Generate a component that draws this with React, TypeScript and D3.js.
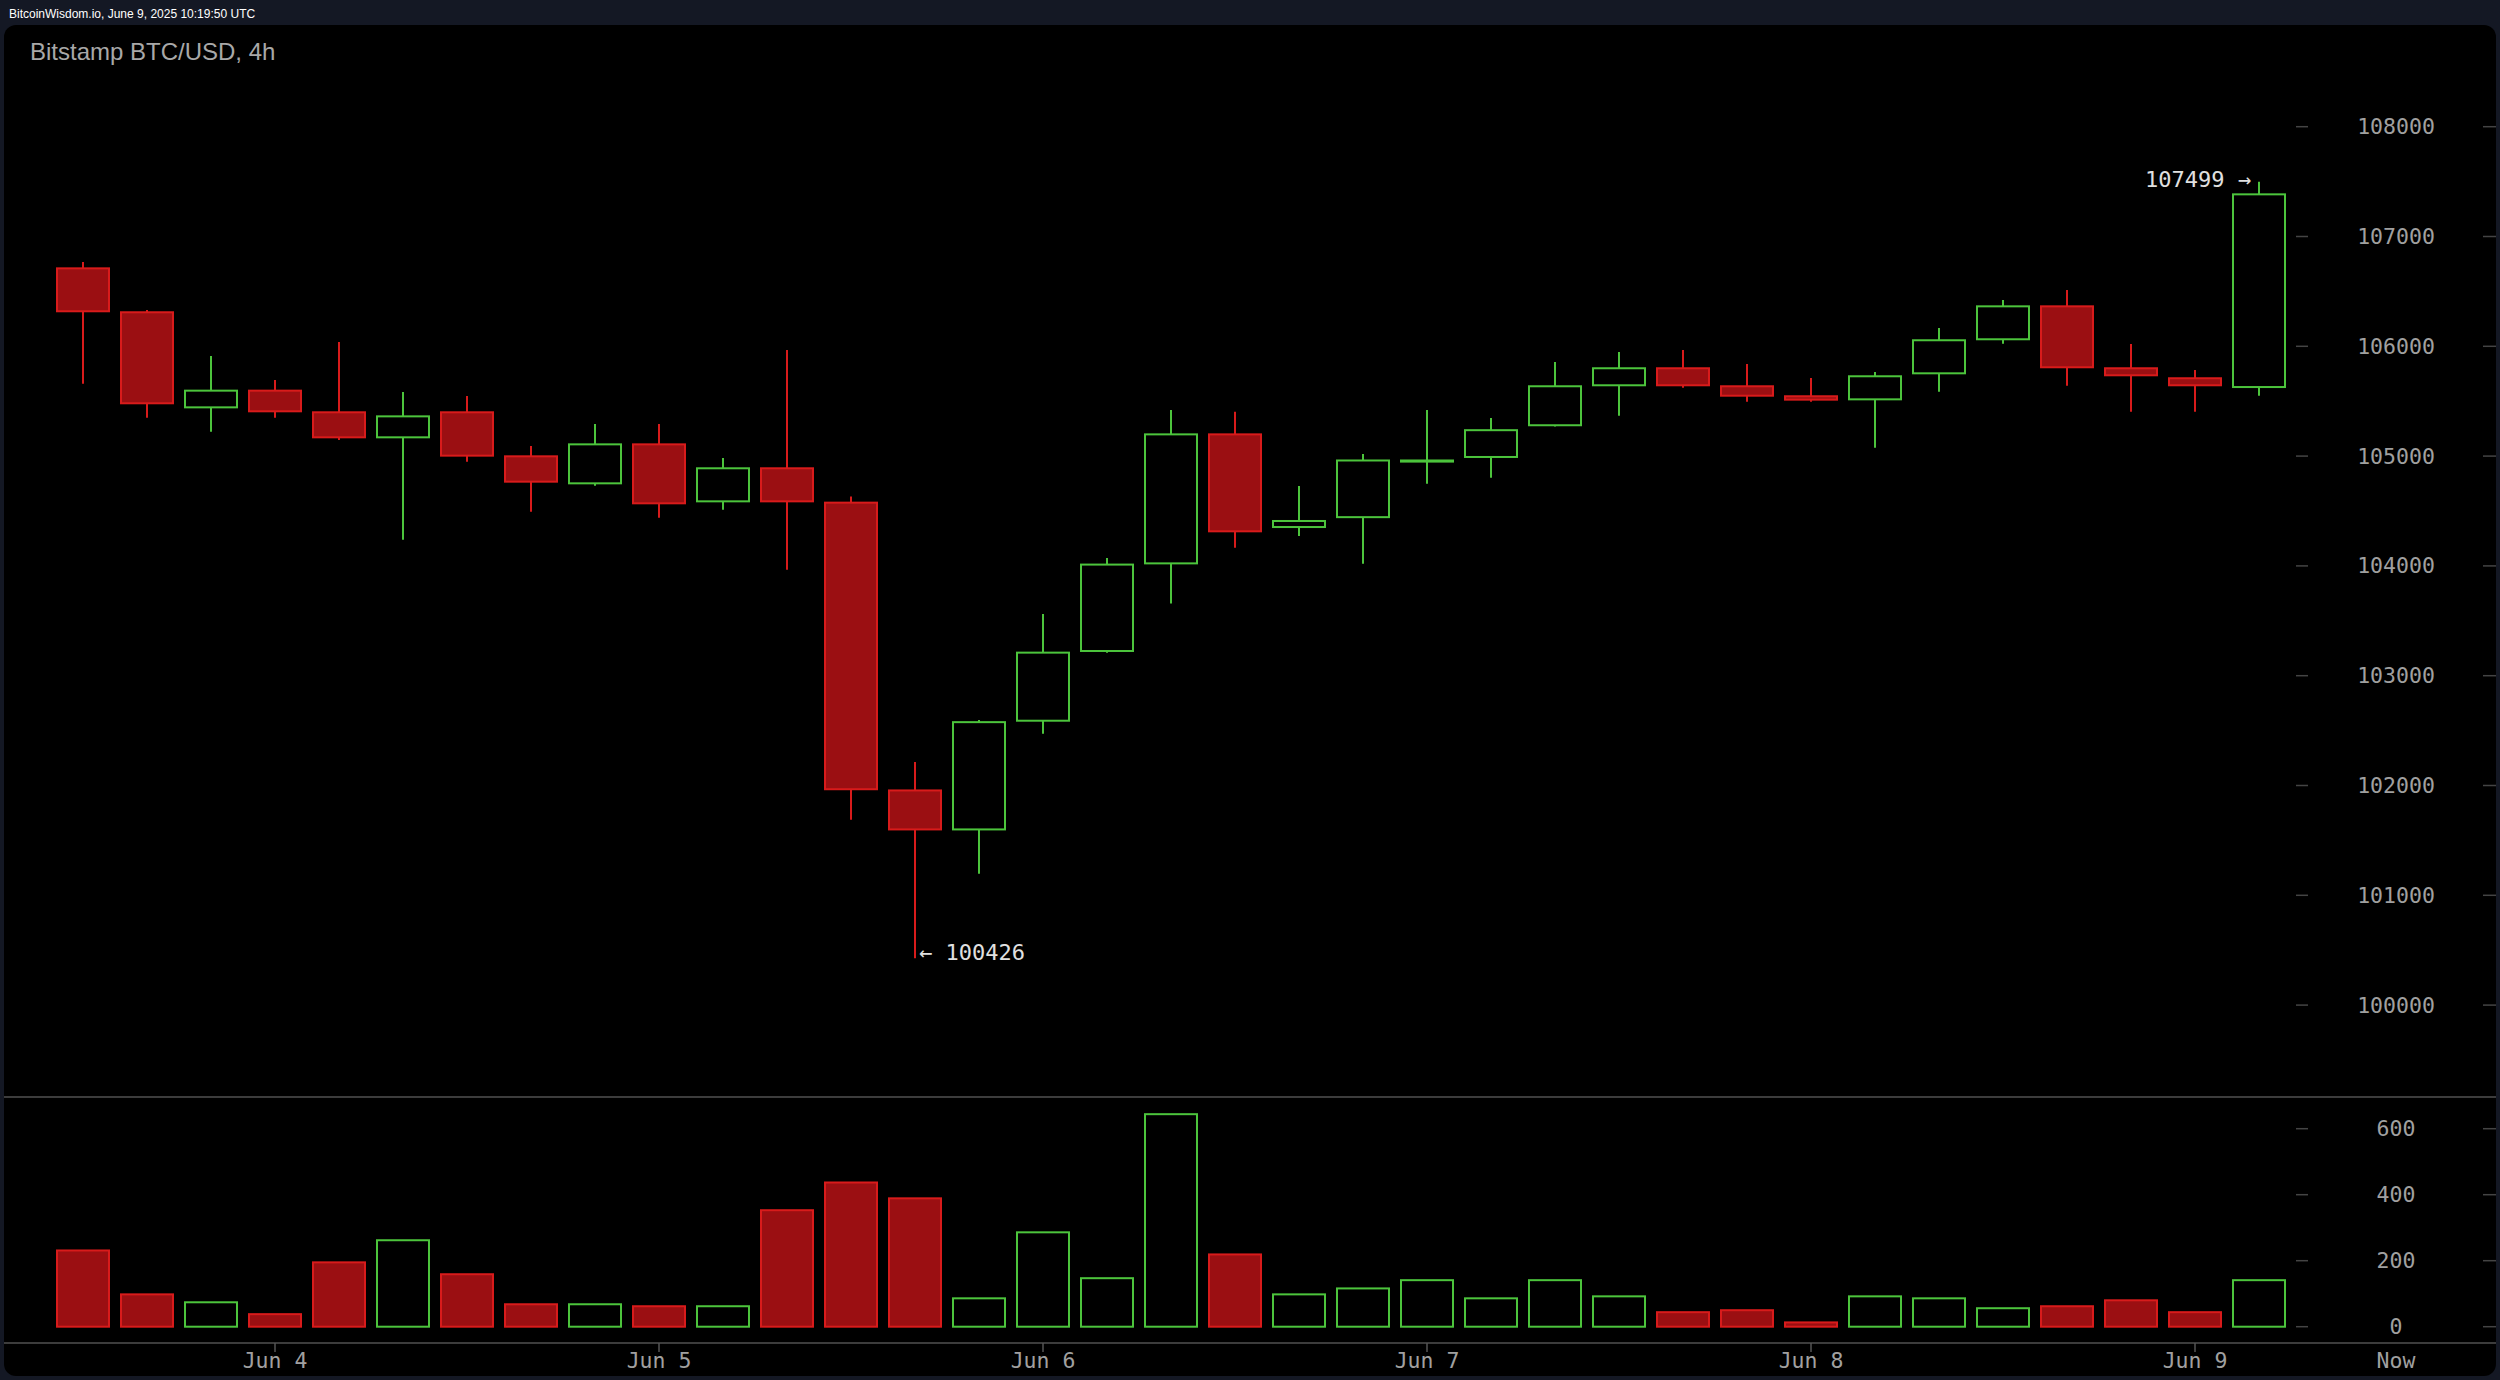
import React, { useRef, useEffect } from 'react';
import * as d3 from 'd3';

// 4h candles, Bitstamp BTC/USD, first candle Jun 3 12:00 UTC
const opens = [
  106710, 106310, 105444, 105596, 105399, 105171, 105399, 104998, 104752, 105107,
  104588, 104889, 104576, 101955, 101600, 102590, 103225, 104023, 105198, 104354,
  104444, 104950, 104992, 105281, 105645, 105800, 105636, 105545, 105517, 105754,
  106064, 106364, 105800, 105709, 105629,
];
const highs = [
  106768, 106331, 105912, 105693, 106039, 105584, 105547, 105092, 105292, 105292,
  104983, 105966, 104633, 102214, 102596, 103562, 104072, 105420, 105403, 104728,
  105019, 105420, 105347, 105857, 105948, 105966, 105839, 105711, 105766, 106167,
  106422, 106513, 106021, 105784, 107499,
];
const lows = [
  105659, 105350, 105222, 105350, 105147, 104239, 104949, 104494, 104730, 104439,
  104512, 103965, 101688, 100426, 101196, 102472, 103210, 103657, 104166, 104273,
  104019, 104748, 104803, 105270, 105368, 105623, 105495, 105495, 105077, 105587,
  106024, 105641, 105404, 105404, 105550,
];
const closes = [
  106319, 105481, 105596, 105408, 105171, 105362, 105004, 104767, 105107, 104570,
  104889, 104588, 101966, 101600, 102577, 103210, 104012, 105198, 104315, 104409,
  104960, 104960, 105236, 105636, 105800, 105645, 105550, 105514, 105727, 106055,
  106364, 105809, 105736, 105645, 107384,
];
const volumes = [
  231, 98, 74, 38, 195, 262, 159, 68, 68, 62,
  62, 353, 437, 389, 86, 286, 147, 644, 219, 98,
  116, 141, 86, 141, 92, 44, 50, 13, 92, 86,
  56, 62, 80, 44, 141,
];
const priceTicks = [100000, 101000, 102000, 103000, 104000, 105000, 106000, 107000, 108000];
const volumeTicks = [0, 200, 400, 600];

const startTime = Date.UTC(2025, 5, 3, 12);
const step = 4 * 3600 * 1000;

const RED = '#d81b1b';
const RED_FILL = '#9b0f12';
const GREEN = '#4cc43c';
const MONO = '"DejaVu Sans Mono", monospace';
const SANS = '"Liberation Sans", Arial, sans-serif';

const App: React.FC = () => {
  const svgRef = useRef<SVGSVGElement | null>(null);

  useEffect(() => {
    if (!svgRef.current) return;
    document.body.style.margin = '0';
    document.body.style.background = '#141824';

    const width = 2500;
    const height = 1380;
    const svg = d3.select(svgRef.current).attr('width', width).attr('height', height);
    svg.selectAll('*').remove();

    const data = opens.map((o, i) => ({
      t: new Date(startTime + i * step),
      o,
      h: highs[i],
      l: lows[i],
      c: closes[i],
      v: volumes[i],
      up: closes[i] >= o,
    }));

    const x = d3
      .scaleUtc()
      .domain([data[0].t, data[data.length - 1].t])
      .range([83, 2259]);
    const y = d3.scaleLinear().domain([100000, 108000]).range([1005.1, 126.7]);
    const yv = d3.scaleLinear().domain([0, 600]).range([1326.7, 1128.7]);
    const bodyW = 52;

    // background + panel
    svg.append('rect').attr('width', width).attr('height', height).attr('fill', '#141824');
    svg
      .append('rect')
      .attr('x', 4)
      .attr('y', 25)
      .attr('width', 2492)
      .attr('height', 1351)
      .attr('rx', 12)
      .attr('fill', '#000');

    svg
      .append('text')
      .attr('x', 9)
      .attr('y', 18)
      .attr('font-family', SANS)
      .attr('font-size', 12)
      .attr('fill', '#fff')
      .text('BitcoinWisdom.io, June 9, 2025 10:19:50 UTC');

    svg
      .append('text')
      .attr('x', 30)
      .attr('y', 60)
      .attr('font-family', SANS)
      .attr('font-size', 24)
      .attr('fill', '#a8a8a8')
      .text('Bitstamp BTC/USD, 4h');

    // separators
    [1097, 1343].forEach((yy) => {
      svg
        .append('line')
        .attr('x1', 4)
        .attr('x2', 2496)
        .attr('y1', yy)
        .attr('y2', yy)
        .attr('stroke', '#3c3c3c')
        .attr('stroke-width', 2);
    });

    // right axes
    const axisLabel = (yy: number, txt: string) => {
      svg
        .append('text')
        .attr('x', 2396)
        .attr('y', yy)
        .attr('text-anchor', 'middle')
        .attr('dominant-baseline', 'central')
        .attr('font-family', MONO)
        .attr('font-size', 21.5)
        .attr('fill', '#a0a0a0')
        .text(txt);
      [
        [2296, 2308],
        [2483, 2496],
      ].forEach(([a, b]) => {
        svg
          .append('line')
          .attr('x1', a)
          .attr('x2', b)
          .attr('y1', yy)
          .attr('y2', yy)
          .attr('stroke', '#444')
          .attr('stroke-width', 1.5);
      });
    };
    priceTicks.forEach((p) => axisLabel(y(p), String(p)));
    volumeTicks.forEach((v) => axisLabel(yv(v), String(v)));

    // date axis
    const days = d3.utcDay.range(data[0].t, new Date(data[data.length - 1].t.getTime() + 1));
    const fmt = d3.utcFormat('%b %-d');
    days.forEach((d) => {
      svg
        .append('line')
        .attr('x1', x(d))
        .attr('x2', x(d))
        .attr('y1', 1343)
        .attr('y2', 1352)
        .attr('stroke', '#555')
        .attr('stroke-width', 1.5);
      svg
        .append('text')
        .attr('x', x(d))
        .attr('y', 1360)
        .attr('text-anchor', 'middle')
        .attr('dominant-baseline', 'central')
        .attr('font-family', MONO)
        .attr('font-size', 21.5)
        .attr('fill', '#a0a0a0')
        .text(fmt(d));
    });
    svg
      .append('text')
      .attr('x', 2396)
      .attr('y', 1360)
      .attr('text-anchor', 'middle')
      .attr('dominant-baseline', 'central')
      .attr('font-family', MONO)
      .attr('font-size', 21.5)
      .attr('fill', '#a0a0a0')
      .text('Now');

    // wicks
    svg
      .append('g')
      .selectAll('line')
      .data(data)
      .join('line')
      .attr('x1', (d) => x(d.t))
      .attr('x2', (d) => x(d.t))
      .attr('y1', (d) => y(d.h))
      .attr('y2', (d) => y(d.l))
      .attr('stroke', (d) => (d.up ? GREEN : RED))
      .attr('stroke-width', 2);

    // bodies
    svg
      .append('g')
      .selectAll('rect')
      .data(data)
      .join('rect')
      .attr('x', (d) => x(d.t) - bodyW / 2)
      .attr('y', (d) => y(Math.max(d.o, d.c)))
      .attr('width', bodyW)
      .attr('height', (d) => Math.abs(y(d.o) - y(d.c)))
      .attr('fill', (d) => (d.up ? '#000' : RED_FILL))
      .attr('stroke', (d) => (d.up ? GREEN : RED))
      .attr('stroke-width', 2);

    // volume
    svg
      .append('g')
      .selectAll('rect')
      .data(data)
      .join('rect')
      .attr('x', (d) => x(d.t) - bodyW / 2)
      .attr('y', (d) => yv(d.v))
      .attr('width', bodyW)
      .attr('height', (d) => yv(0) - yv(d.v))
      .attr('fill', (d) => (d.up ? '#000' : RED_FILL))
      .attr('stroke', (d) => (d.up ? GREEN : RED))
      .attr('stroke-width', 2);

    // high / low markers
    const hi = data.reduce((a, b) => (b.h > a.h ? b : a));
    const lo = data.reduce((a, b) => (b.l < a.l ? b : a));
    svg
      .append('text')
      .attr('x', x(hi.t) - 8)
      .attr('y', y(hi.h) - 2)
      .attr('text-anchor', 'end')
      .attr('dominant-baseline', 'central')
      .attr('font-family', MONO)
      .attr('font-size', 22)
      .attr('fill', '#e0e0e0')
      .text(`${hi.h} →`);
    svg
      .append('text')
      .attr('x', x(lo.t) + 4)
      .attr('y', y(lo.l) - 6)
      .attr('dominant-baseline', 'central')
      .attr('font-family', MONO)
      .attr('font-size', 22)
      .attr('fill', '#e0e0e0')
      .text(`← ${lo.l}`);
  }, []);

  return <svg ref={svgRef} style={{ display: 'block' }}></svg>;
};

export default App;
